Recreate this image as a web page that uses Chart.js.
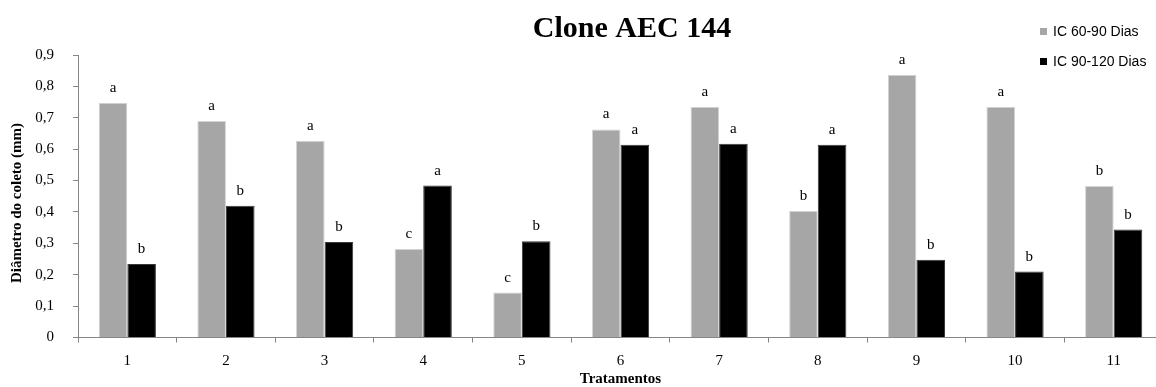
<!DOCTYPE html>
<html>
<head>
<meta charset="utf-8">
<script src="https://cdn.jsdelivr.net/npm/chart.js@4"></script>
<style>
  html, body { margin: 0; padding: 0; background: #fff; overflow: hidden; }
  #wrap { width: 1166px; height: 387px; }
</style>
</head>
<body>
<div id="wrap"><canvas id="chart"></canvas></div>
<script>
// dados (Clone AEC 144)
const tratamentos = ['1', '2', '3', '4', '5', '6', '7', '8', '9', '10', '11'];
const ic60_90 = [0.748, 0.69, 0.627, 0.282, 0.143, 0.663, 0.735, 0.403, 0.837, 0.735, 0.483];
const ic90_120 = [0.234, 0.42, 0.304, 0.484, 0.307, 0.614, 0.617, 0.614, 0.248, 0.21, 0.344];
const letras60 = ['a', 'a', 'a', 'c', 'c', 'a', 'a', 'b', 'a', 'a', 'b'];
const letras120 = ['b', 'b', 'b', 'a', 'b', 'a', 'a', 'a', 'b', 'b', 'b'];
const yTicks = [0, 0.1, 0.2, 0.3, 0.4, 0.5, 0.6, 0.7, 0.8, 0.9];

const SERIF = "'Liberation Serif', 'Times New Roman', serif";
const SANS = "'Liberation Sans', Arial, sans-serif";
const AXIS = '#868686';

// letras de significância acima das barras + título + legenda + título do eixo y
const extras = {
    id: 'extras',
    afterDatasetsDraw(chart) {
        const ctx = chart.ctx;
        const letras = [letras60, letras120];
        ctx.save();
        ctx.fillStyle = '#000';
        ctx.font = `15px ${SERIF}`;
        ctx.textAlign = 'center';
        ctx.textBaseline = 'alphabetic';
        chart.data.datasets.forEach((ds, di) => {
            chart.getDatasetMeta(di).data.forEach((bar, i) => {
                ctx.fillText(letras[di][i], bar.x, bar.y - 11);
            });
        });

        ctx.font = `bold 30px ${SERIF}`;
        ctx.fillText('Clone AEC 144', 632, 37);

        ctx.save();
        ctx.translate(17, 203);
        ctx.rotate(-Math.PI / 2);
        ctx.textBaseline = 'middle';
        ctx.font = `bold 15px ${SERIF}`;
        ctx.fillText('Diâmetro do coleto (mm)', 0, 0);
        ctx.restore();

        ctx.textAlign = 'left';
        ctx.textBaseline = 'middle';
        ctx.font = `14px ${SANS}`;
        const leg = [['IC 60-90 Dias', '#a6a6a6', 32], ['IC 90-120 Dias', '#000000', 62]];
        leg.forEach(([txt, col, y]) => {
            ctx.fillStyle = col;
            ctx.fillRect(1040, y - 4, 7, 7);
            ctx.fillStyle = '#000';
            ctx.fillText(txt, 1053, y);
        });
        ctx.restore();
    }
};

new Chart(document.getElementById('chart'), {
    type: 'bar',
    data: {
        labels: tratamentos,
        datasets: [
            { label: 'IC 60-90 Dias', data: ic60_90, backgroundColor: '#a6a6a6', borderColor: '#d4d4d4', borderWidth: 1 },
            { label: 'IC 90-120 Dias', data: ic90_120, backgroundColor: '#000000', borderColor: '#3a3a3a', borderWidth: 1 }
        ]
    },
    options: {
        responsive: true, maintainAspectRatio: false, animation: false,
        layout: { padding: { top: 55, right: 3, left: 0, bottom: 0 } },
        datasets: { bar: { categoryPercentage: 0.58, barPercentage: 1.0 } },
        plugins: { legend: { display: false }, tooltip: { enabled: false } },
        scales: {
            x: {
                grid: { display: true, drawOnChartArea: false, drawTicks: true, tickLength: 5, color: AXIS, offset: true },
                border: { display: true, color: AXIS, width: 1 },
                ticks: { color: '#000', font: { family: SERIF, size: 15 }, padding: 10, maxRotation: 0 },
                title: { display: true, text: 'Tratamentos', color: '#000', font: { family: SERIF, size: 15, weight: 'bold', lineHeight: 1 }, padding: { top: 0, bottom: 0 } },
                afterFit: s => { s.height = 49.5; }
            },
            y: {
                min: 0, max: 0.9,
                afterBuildTicks: s => { s.ticks = yTicks.map(v => ({ value: v })); },
                grid: { display: true, drawOnChartArea: false, drawTicks: true, tickLength: 5, color: AXIS },
                border: { display: true, color: AXIS, width: 1 },
                ticks: { color: '#000', font: { family: SERIF, size: 15 }, padding: 19,
                         callback: v => v === 0 ? '0' : v.toFixed(1).replace('.', ',') },
                afterFit: s => { s.width = 78; }
            }
        }
    },
    plugins: [extras]
});
</script>
</body>
</html>
